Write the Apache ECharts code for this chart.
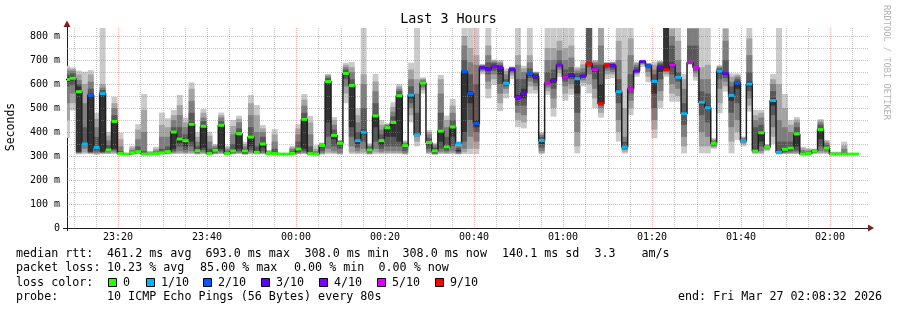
<!DOCTYPE html>
<html><head><meta charset="utf-8">
<script src="https://cdn.jsdelivr.net/npm/echarts@6/dist/echarts.min.js"></script>
<style>html,body{margin:0;padding:0;background:#fff}#c{width:897px;height:310px}</style>
</head><body><div id="c"></div>
<script>
// ---- data (seconds after 23:00; each probe step lasts 80 s) ----
const startSec = 472;      // start of first (partially visible) step
const stepSec = 80;
const medians = [619,624,568,350,553,336,560,325,444,310,
 308,313,318,308,308,310,313,318,400,371,
 364,432,322,424,310,324,428,310,321,393,
 321,379,315,350,311,310,308,308,311,329,
 453,310,308,344,610,386,353,644,594,364,
 399,325,467,364,418,440,551,343,554,388,
 604,356,321,404,338,421,353,651,561,436,
 668,661,674,668,603,661,544,562,643,631,
 365,604,615,679,629,637,622,633,685,660,
 518,679,676,568,337,579,654,693,676,611,
 671,660,679,628,476,690,669,524,501,353,
 654,643,553,604,364,600,321,397,338,531,
 315,328,333,392,308,310,321,410,333,308,
 308,308,308,308];
const lossCounts = [0,0,0,1,2,1,1,0,0,0,
 0,0,0,0,0,0,0,0,0,0,
 0,0,0,0,0,0,0,0,0,0,
 0,0,0,0,0,0,0,0,0,0,
 0,0,0,0,0,0,0,0,0,1,
 1,0,0,0,0,0,0,0,1,1,
 0,0,0,0,0,0,1,2,2,2,
 3,3,4,3,1,3,4,3,2,3,
 1,5,3,4,5,3,1,3,9,5,
 9,9,3,1,1,5,3,3,2,1,
 3,9,5,1,1,5,5,1,1,0,
 1,3,1,2,1,1,0,0,0,1,
 1,0,0,0,0,0,0,0,0,0,
 0,0,0,0];
const pings = [
[375,450,520,590,610,628,640,655,665,676],[490,520,560,595,615,632,645,655,662,669],
[307,310,312,315,318,590,600,617,640,656],[308,315,330,345,348,352,420,520,600,651],
[308,310,312,315,318,560,580,610,640,658],[305,308,312,320,330,340,380,420,455,480],
[308,310,312,315,318,565,575,585,600,850],[308,310,314,318,322,328,345,365,385,400],
[308,312,318,325,330,450,470,500,520,547],[306,307,308,309,309,311,320,340,370,397],
[305,306,306,307,307,307,308,309,310,312],[306,307,308,310,312,314,318,325,335,343],
[308,310,312,315,316,320,340,370,410,433],[305,306,307,307,307,308,320,400,492,558],
[305,306,306,307,307,308,310,314,318,321],[306,307,308,309,309,310,315,322,330,339],
[307,308,310,312,312,314,330,380,430,481],[308,309,311,314,316,320,340,380,420,457],
[308,310,314,320,330,405,420,450,470,492],[308,312,320,340,355,380,420,470,512,554],
[308,310,315,325,340,370,390,420,440,460],[308,312,320,340,360,440,480,530,580,607],
[306,308,310,314,318,325,340,360,380,399],[308,310,315,325,335,430,445,460,480,496],
[306,307,308,309,309,311,330,360,385,401],[307,308,310,315,320,327,333,340,345,350],
[308,310,314,320,330,432,445,460,470,481],[305,306,307,308,309,311,318,328,336,343],
[307,308,310,313,316,324,350,390,425,450],[308,310,313,320,330,398,415,440,455,468],
[306,307,308,310,314,323,330,340,350,360],[308,310,315,325,340,385,420,470,520,554],
[307,308,310,313,314,317,340,400,470,512],[307,309,312,320,335,355,380,400,415,429],
[305,306,307,308,310,312,315,318,322,325],[306,307,308,309,309,311,330,360,390,412],
[305,306,306,307,307,307,308,309,310,311],[305,306,306,307,307,307,308,309,310,312],
[306,307,308,309,310,312,320,330,336,342],[307,308,311,316,322,333,360,390,415,433],
[308,310,314,320,330,460,480,510,535,558],[306,307,308,309,309,311,340,390,440,467],
[305,306,306,307,307,308,312,320,330,345],[306,308,312,320,335,346,349,351,353,356],
[308,315,330,380,440,615,625,632,638,642],[308,312,320,340,370,392,410,430,450,462],
[306,308,312,330,345,356,360,363,365,367],[520,560,590,620,635,650,660,670,680,689],
[308,315,340,380,420,600,620,650,670,692],[308,312,320,335,350,370,400,440,470,499],
[308,315,330,360,390,410,500,600,640,850],[306,308,310,315,320,328,335,342,348,353],
[308,315,330,360,420,470,520,570,610,642],[308,312,318,330,345,368,390,410,430,450],
[308,312,320,340,380,420,426,430,433,436],[308,312,320,340,380,445,465,485,505,524],
[308,312,320,340,360,555,570,580,590,600],[306,308,312,320,335,346,350,355,360,365],
[440,470,500,520,540,560,590,620,660,689],[340,360,380,385,386,390,480,560,620,850],
[560,575,585,595,600,608,612,618,622,628],[308,312,318,330,345,360,375,390,400,408],
[306,307,308,310,314,325,335,345,350,355],[308,312,318,330,360,410,480,560,620,638],
[308,310,315,322,330,345,380,420,450,468],[308,312,320,340,380,425,450,480,510,538],
[307,308,310,315,320,325,335,342,348,360],[308,315,330,360,400,655,700,760,800,850],
[308,330,380,450,520,570,640,690,750,850],[308,330,360,400,420,450,600,680,720,850],
[640,650,655,660,665,672,676,679,681,684],[540,580,610,640,655,668,690,720,760,850],
[596,620,640,655,668,680,688,694,698,702],[487,520,560,600,640,672,680,688,694,700],
[540,560,580,590,598,608,620,640,655,665],[620,635,645,652,658,665,668,670,671,673],
[420,450,480,510,535,555,620,680,720,850],[415,440,470,510,540,580,620,650,665,676],
[560,590,610,625,635,650,665,690,720,850],[560,575,590,605,620,640,645,648,650,652],
[308,312,320,335,350,372,380,388,394,400],[555,570,585,595,600,608,650,700,750,850],
[464,500,540,580,605,625,660,700,750,850],[630,645,660,670,675,684,700,740,780,850],
[530,560,590,610,622,636,660,700,750,850],[555,580,600,620,630,645,670,710,760,850],
[311,340,400,480,560,628,645,655,665,672],[590,605,615,625,630,638,650,665,682,700],
[561,600,640,670,680,690,840,850,860,870],[499,540,580,620,650,668,680,690,695,700],
[460,480,500,510,515,600,680,760,840,860],[620,640,655,665,672,684,686,688,689,690],
[624,640,650,660,670,682,686,689,691,693],[360,400,450,520,560,575,620,700,780,850],
[310,318,325,330,335,340,360,380,500,850],[470,500,530,560,575,585,640,720,790,850],
[630,640,645,650,652,658,670,680,688,693],[670,680,685,688,690,695,696,697,698,699],
[607,630,650,665,672,680,683,685,686,687],[374,410,450,500,560,615,640,660,680,693],
[499,530,570,620,650,676,685,690,694,697],[630,640,650,655,660,850,860,870,880,890],
[526,560,600,640,670,690,760,800,830,850],[526,550,580,610,622,634,650,700,780,850],
[311,340,380,430,470,482,520,580,620,642],[680,683,685,687,689,692,760,830,845,850],
[614,630,645,655,665,675,760,830,845,850],[311,340,400,470,515,530,570,620,670,850],
[311,340,380,440,495,510,560,620,680,850],[330,335,340,345,350,356,360,365,370,375],
[478,520,580,620,645,660,666,670,675,679],[568,590,610,625,638,648,700,780,830,850],
[311,360,420,480,530,560,590,610,630,644],[367,400,450,520,580,610,620,630,637,644],
[340,348,355,360,362,366,370,374,378,381],[485,510,540,570,590,610,650,720,790,850],
[308,312,315,318,320,330,420,450,470,492],[308,312,320,340,360,405,430,460,480,492],
[320,325,330,333,336,340,343,345,347,349],[350,380,420,470,510,540,570,600,620,642],
[306,308,310,313,314,317,360,450,600,850],[308,310,312,316,322,333,360,420,500,558],
[308,310,314,320,326,338,360,400,430,450],[308,310,315,322,340,396,420,440,452,462],
[305,306,306,307,307,308,315,325,333,339],[306,307,308,309,309,311,315,322,328,332],
[308,310,313,316,318,324,326,327,328,330],[308,312,320,340,370,415,430,440,448,454],
[308,312,318,325,330,337,345,355,362,367],[305,306,306,307,307,308,310,313,316,318],
[305,306,306,307,307,308,310,313,315,318],[305,306,306,307,307,308,315,330,345,360],
[305,306,306,307,307,308,309,310,311,312],[305,306,306,307,307,308,309,310,311,312]];
const lossLevels = [0,1,2,3,4,5,9];
const lossLabels = ['0','1/10','2/10','3/10','4/10','5/10','9/10'];
const lossColors = ['#26ff00','#00b8ff','#0059ff','#5e00ff','#7e00ff','#dd00ff','#ff0000'];
const smokeColors = ['#cacaca','#a4a4a4','#7e7e7e','#585858','#323232'];
const xTickValues = [1200,2400,3600,4800,6000,7200,8400,9600,10800];
const xTickLabels = ['23:20','23:40','00:00','00:20','00:40','01:00','01:20','01:40','02:00'];
const yTickValues = [0,100,200,300,400,500,600,700,800];
const yTickLabels = ['0','100 m','200 m','300 m','400 m','500 m','600 m','700 m','800 m'];
const xMin = 512, xMax = 11312;   // 23:08:32 .. 02:08:32
const yMax = 833.33;

// ---- build ----
const FONT = 'DejaVu Sans Mono';
const smokeData = pings.map((p, j) => [startSec + j*stepSec, startSec + (j+1)*stepSec].concat(p));
const markData = medians.map((m, j) => [startSec + j*stepSec, startSec + (j+1)*stepSec, m, lossCounts[j]]);
const lineData = medians.map((m, j) => [startSec + j*stepSec, m]);
lineData.push([startSec + medians.length*stepSec, medians[medians.length-1]]);

function colorFor(loss){
  let c = lossColors[0];
  for (let i = 0; i < lossLevels.length; i++) if (loss > (i ? lossLevels[i-1] : -1)) c = lossColors[i];
  return c;
}
function clip(r, cs){ return echarts.graphic.clipRectByRect(r, {x:cs.x,y:cs.y,width:cs.width,height:cs.height}); }

const MAJOR = 'rgba(222,79,79,0.45)', MINOR = 'rgba(143,143,143,0.5)';
const xGrid = [], yGrid = [];
for (let v = 600; v < xMax; v += 300) xGrid.push([v, xTickValues.indexOf(v) >= 0 ? 1 : 0]);
for (let v = 50; v < yMax; v += 50) yGrid.push([v, yTickValues.indexOf(v) >= 0 ? 1 : 0]);

const graphics = [];
const TXT = (x, y, t) => graphics.push({type:'text', x, y, silent:true,
  style:{text:t, font:'11.7px "DejaVu Sans Mono"', fill:'#000', textVerticalAlign:'middle'}});
const line1 = [[16,'median rtt:'],[107,'461.2 ms avg'],[205.5,'693.0 ms max'],[304.5,'308.0 ms min'],[402.5,'308.0 ms now'],[502,'140.1 ms sd'],[594.5,'3.3'],[641.5,'am/s']];
const line2 = [[16,'packet loss:'],[107,'10.23 % avg'],[200,'85.00 % max'],[294,'0.00 % min'],[378.5,'0.00 % now']];
const line4 = [[16,'probe:'],[107,'10 ICMP Echo Pings (56 Bytes) every 80s'],[678,'end: Fri Mar 27 02:08:32 2026']];
line1.forEach(s => TXT(s[0], 254, s[1]));
line2.forEach(s => TXT(s[0], 268.3, s[1]));
TXT(16, 282.5, 'loss color:');
line4.forEach(s => TXT(s[0], 296.7, s[1]));
const boxX = [108,146,203,261,319,377,435];
lossLabels.forEach((lab, i) => {
  graphics.push({type:'rect', silent:true, shape:{x:boxX[i]+0.5, y:278.5, width:8, height:8}, style:{fill:lossColors[i], stroke:'#000', lineWidth:1}});
  TXT(boxX[i]+15, 282.5, lab);
});
graphics.push({type:'text', x:11, y:127, rotation:Math.PI/2, silent:true,
  style:{text:'Seconds', font:'11.5px "DejaVu Sans Mono"', fill:'#000', textAlign:'center', textVerticalAlign:'middle'}});
graphics.push({type:'text', x:886.5, y:5, rotation:-Math.PI/2, silent:true,
  style:{text:'RRDTOOL / TOBI OETIKER', font:'8.7px "DejaVu Sans Mono"', fill:'#b4b4b4', textAlign:'left', textVerticalAlign:'middle'}});
graphics.push({type:'polygon', silent:true, shape:{points:[[63.5,27],[70.5,27],[67,20.5]]}, style:{fill:'rgb(128,31,31)'}});
graphics.push({type:'polygon', silent:true, shape:{points:[[868,224.5],[868,231.5],[874,228]]}, style:{fill:'rgb(128,31,31)'}});
graphics.push({type:'line', silent:true, shape:{x1:67.5,y1:26,x2:67.5,y2:28}, style:{stroke:'rgb(31,31,31)', lineWidth:1}});
graphics.push({type:'line', silent:true, shape:{x1:63,y1:228.5,x2:67,y2:228.5}, style:{stroke:'rgb(31,31,31)', lineWidth:1}});
graphics.push({type:'line', silent:true, shape:{x1:67.5,y1:228,x2:67.5,y2:231}, style:{stroke:'rgb(31,31,31)', lineWidth:1}});

const chart = echarts.init(document.getElementById('c'), null, {renderer:'canvas'});
chart.setOption({
  animation:false,
  backgroundColor:'#fff',
  title:{text:'Last 3 Hours', left:'center', top:13, padding:0,
    textStyle:{fontFamily:FONT, fontSize:13.4, fontWeight:'normal', color:'#000'}},
  grid:{left:67, top:28, right:29, bottom:82, containLabel:false},
  xAxis:{type:'value', min:xMin, max:xMax,
    axisLine:{show:true, lineStyle:{color:'rgb(31,31,31)', width:1}},
    axisTick:{show:false}, splitLine:{show:false},
    axisLabel:{customValues:xTickValues, fontFamily:FONT, fontSize:10, color:'#000', margin:4,
      formatter:v => { const i = xTickValues.indexOf(Math.round(v)); return i >= 0 ? xTickLabels[i] : ''; }}},
  yAxis:{type:'value', min:0, max:yMax,
    axisLine:{show:true, lineStyle:{color:'rgb(31,31,31)', width:1}},
    axisTick:{show:false}, splitLine:{show:false},
    axisLabel:{customValues:yTickValues, fontFamily:FONT, fontSize:10, color:'#000', margin:7,
      formatter:v => { const i = yTickValues.indexOf(Math.round(v)); return i >= 0 ? yTickLabels[i] : ''; }}},
  graphic:graphics,
  series:[
    {type:'custom', name:'smoke', data:smokeData, z:1, silent:true,
     encode:{x:[0,1], y:[2,11]},
     renderItem:(params, api) => {
       const cs = params.coordSys, t0 = api.value(0), t1 = api.value(1), ch = [];
       for (let b = 0; b < 5; b++) {
         const lo = api.value(2+b), hi = api.value(11-b);
         const a = api.coord([t0, hi]), c = api.coord([t1, lo]);
         const r = clip({x:a[0], y:a[1], width:c[0]-a[0], height:c[1]-a[1]}, cs);
         if (r) ch.push({type:'rect', shape:r, style:{fill:smokeColors[b]}});
       }
       return {type:'group', children:ch};
     }},
    {type:'custom', name:'xgrid', data:xGrid, z:2, silent:true, encode:{x:0},
     renderItem:(params, api) => {
       const cs = params.coordSys, x = Math.round(api.coord([api.value(0), 0])[0]) + 0.5;
       return {type:'line', shape:{x1:x, y1:cs.y, x2:x, y2:cs.y+cs.height},
         style:{stroke: api.value(1) ? MAJOR : MINOR, lineWidth:1, lineDash:[1,1]}};
     }},
    {type:'custom', name:'ygrid', data:yGrid, z:2, silent:true, encode:{y:0},
     renderItem:(params, api) => {
       const cs = params.coordSys, y = Math.round(api.coord([xMin, api.value(0)])[1]) + 0.5;
       return {type:'line', shape:{x1:cs.x, y1:y, x2:cs.x+cs.width, y2:y},
         style:{stroke: api.value(1) ? MAJOR : MINOR, lineWidth:1, lineDash:[1,1]}};
     }},
    {type:'line', name:'median', data:lineData, step:'end', showSymbol:false, symbol:'none', z:3, silent:true,
     lineStyle:{color:'#202020', width:1.5}},
    {type:'custom', name:'loss', data:markData, z:4, silent:true,
     encode:{x:[0,1], y:2},
     renderItem:(params, api) => {
       const cs = params.coordSys;
       const a = api.coord([api.value(0), api.value(2)]), c = api.coord([api.value(1), api.value(2)]);
       const r = clip({x:a[0], y:a[1]-1.5, width:c[0]-a[0], height:3}, cs);
       if (!r) return null;
       return {type:'rect', shape:r, style:{fill:colorFor(api.value(3))}};
     }}
  ]
});
</script></body></html>
